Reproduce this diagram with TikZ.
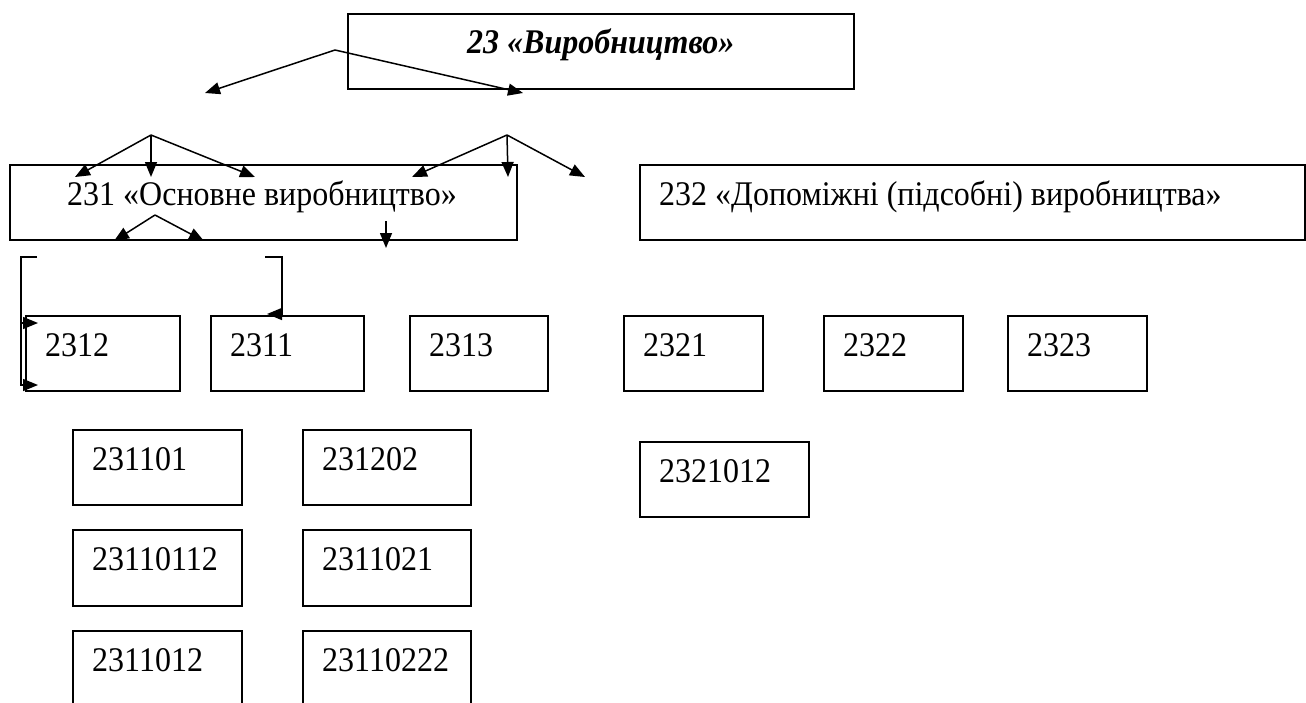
\documentclass[tikz,border=0pt]{standalone}
\usepackage{fontspec}
\setmainfont{Liberation Serif}
\usetikzlibrary{arrows.meta}
\tikzset{
  box/.style={draw, line width=1.6pt, inner sep=0pt, anchor=north west},
  lbl/.style={anchor=base west, inner sep=0pt, font=\fontsize{32}{36}\selectfont},
  conn/.style={line width=1.5pt},
  arr/.style={conn, -{Triangle[length=15pt,width=12pt]}}
}
\newcommand\tall[1]{\scalebox{1}[1.08]{#1}}
\newcommand\cbox[6]{%
  \node[box, minimum width={#4pt-#2pt}, minimum height={#5pt-#3pt}] (#1) at (#2,#3) {};
  \node[lbl] (#1t) at ([xshift=20pt,yshift=-41pt]#1.north west) {\tall{#6}};}
\begin{document}
\begin{tikzpicture}[x=1pt,y=-1pt]
\useasboundingbox (0,0) rectangle (1306,702);
% top box
\node[box, minimum width=506pt, minimum height=75pt] (top) at (347,13) {};
\node[anchor=base, inner sep=0pt, font=\fontsize{32}{36}\selectfont\bfseries\itshape] (topt) at ([yshift=-40pt]top.north) {\tall{23 «Виробництво»}};
% level 2
\cbox{b231}{9}{164}{516}{239}{}
\node[lbl] (b231t) at ([xshift=58pt,yshift=-41pt]b231.north west) {\tall{231 «Основне виробництво»}};
\cbox{b232}{639}{164}{1304}{239}{232 «Допоміжні (підсобні) виробництва»}
% level 3
\cbox{b2312}{25}{315}{179}{390}{2312}
\cbox{b2311}{210}{315}{363}{390}{2311}
\cbox{b2313}{409}{315}{547}{390}{2313}
\cbox{b2321}{623}{315}{762}{390}{2321}
\cbox{b2322}{823}{315}{962}{390}{2322}
\cbox{b2323}{1007}{315}{1146}{390}{2323}
% level 4
\cbox{b231101}{72}{429}{241}{504}{231101}
\cbox{b231202}{302}{429}{470}{504}{231202}
\cbox{b2321012}{639}{441}{808}{516}{2321012}
\cbox{b23110112}{72}{529}{241}{605}{23110112}
\cbox{b2311021}{302}{529}{470}{605}{2311021}
\cbox{b2311012}{72}{630}{241}{708}{2311012}
\cbox{b23110222}{302}{630}{470}{708}{23110222}
% connector points
\coordinate (a0) at (335,50);
\coordinate (a0l) at (205,93);
\coordinate (a0r) at (523,93);
\coordinate (a1) at (151,135);
\coordinate (a2) at (507,135);
\coordinate (a3) at (155,215);
\coordinate (d0) at (386,221);
\draw[arr] (a0) -- (a0l);
\draw[arr] (a0) -- (a0r);
\draw[arr] (a1) -- (75,177);
\draw[arr] (a1) -- (151,177);
\draw[arr] (a1) -- (255,177);
\draw[arr] (a2) -- (412,177);
\draw[arr] (a2) -- (508,177);
\draw[arr] (a2) -- (585,177);
\draw[arr] (a3) -- (114,241);
\draw[arr] (a3) -- (204,241);
\draw[arr] (d0) -- (386,248);
% brackets
\coordinate (bl) at (21,257);
\draw[conn] (37,257) -- (bl) -- (21,386);
\draw[arr] (21,323) -- (38,323);
\draw[arr] (21,385) -- (38,385);
\draw[arr] (265,257) -| (282,314) -- (267,314);
\end{tikzpicture}
\end{document}
